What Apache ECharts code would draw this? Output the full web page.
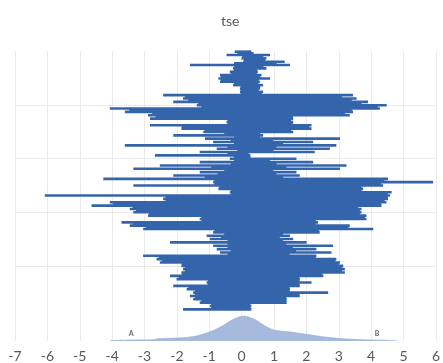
<!DOCTYPE html>
<html>
<head>
<meta charset="utf-8">
<script src="https://cdn.jsdelivr.net/npm/echarts@6/dist/echarts.min.js"></script>
<style>
  html, body { margin: 0; padding: 0; background: #fff; }
  #chart { width: 443px; height: 363px; }
</style>
</head>
<body>
<div id="chart"></div>
<script>
const X_MIN = -7;
const X_MAX = 6;

// each row is one floating bar, from rowStart to rowEnd, top to bottom
const rowStart = [
  -0.28, -0.53, -0.07, -0.02, -1.65, -0.33, -0.43, -0.73, -0.78, -0.73,
  -0.33, -0.12, -0.12, -2.47, -1.86, -2.16, -1.44, -4.10, -3.64, -2.93,
  -2.87, -0.53, -2.87, -1.91, -1.24, -2.16, -1.19, -0.94, -3.64, -0.83,
  -1.35, -2.72, -0.43, -1.35, -2.57, -3.38, -1.35, -2.16, -4.30, -0.94,
  -3.38, -0.78, -0.43, -6.09, -2.47, -4.10, -4.66, -3.49, -3.38, -2.93,
  -1.35, -3.74, -3.49, -3.08, -0.94, -1.14, -1.04, -2.26, -0.94, -0.83,
  -0.73, -3.08, -2.67, -2.57, -1.91, -1.86, -1.91, -2.26, -2.06, -1.14,
  -2.16, -1.75, -1.55, -1.65, -1.55, -1.35, -1.04, -1.86
];
const rowEnd = [
  0.23, 0.80, 0.69, 1.25, 1.41, 0.69, 0.43, 0.54, 0.80, 0.49,
  0.59, 0.49, 0.59, 3.34, 3.45, 3.80, 4.37, 4.16, 3.34, 3.24,
  1.51, 1.51, 2.07, 2.07, 1.51, 0.59, 2.94, 2.12, 2.83, 2.63,
  2.17, 0.20, 1.61, 2.12, 3.14, 2.94, 1.61, 1.71, 4.41, 5.79,
  4.26, 3.65, 4.52, 4.47, 4.41, 4.36, 4.21, 3.60, 3.60, 3.75,
  3.75, 2.27, 3.24, 3.96, 2.32, 1.41, 1.51, 1.92, 2.73, 2.22,
  2.68, 2.22, 2.83, 2.94, 3.04, 3.09, 3.09, 2.43, 1.71, 2.07,
  1.71, 1.41, 2.58, 1.71, 1.31, 1.31, 0.23, 0.23
];

// shorter bars sitting between the rows above (row i and i + 1)
const innerStart = [
  -0.20, -0.05, 0.00, -0.30, -0.30, -0.30, -0.40, -0.70, -0.70, -0.30,
  -0.10, -0.10, -0.10, -1.80, -1.70, -1.40, -1.30, -3.50, -2.80, -2.70,
  -0.50, -0.50, -1.90, -1.20, -0.60, -0.30, -0.40, -0.30, -0.50, -0.20,
  -0.50, -0.30, -0.30, -0.40, -1.00, -0.60, -0.80, -1.20, -0.90, -0.90,
  -0.75, -0.40, -0.40, -2.40, -2.40, -4.00, -3.40, -3.30, -2.90, -1.30,
  -1.30, -3.40, -3.00, -0.90, -0.60, -0.70, -0.50, -0.50, -0.50, -0.40,
  -0.50, -2.60, -2.50, -1.90, -1.80, -1.80, -1.90, -2.00, -1.10, -1.10,
  -1.70, -1.50, -1.50, -1.50, -1.30, -1.00, -1.00
];
const innerEnd = [
  0.30, 0.60, 0.65, 1.00, 0.60, 0.40, 0.40, 0.50, 0.45, 0.45,
  0.50, 0.45, 0.55, 3.00, 3.30, 3.60, 4.10, 3.30, 3.10, 1.50,
  1.45, 1.50, 2.00, 1.45, 0.50, 0.50, 0.90, 1.20, 1.00, 0.90,
  0.15, 0.20, 0.80, 1.00, 1.30, 0.90, 1.00, 1.20, 4.30, 4.20,
  3.60, 3.60, 4.40, 4.40, 4.30, 4.20, 3.50, 3.55, 3.55, 3.70,
  2.20, 2.20, 3.20, 2.30, 1.20, 1.10, 1.20, 1.30, 1.50, 1.60,
  1.40, 2.20, 2.80, 2.90, 3.00, 3.00, 2.40, 1.70, 1.70, 1.70,
  1.40, 1.40, 1.70, 1.30, 1.30, 0.20, 0.20
];

// density curve under the bars
const densityX = [-4.05, -3.4, -2.7, -2.6, -1.8, -1.4, -1.0, -0.6, -0.3, 0.05,
  0.4, 0.7, 1.0, 1.5, 2.0, 2.5, 3.1, 3.7, 4.4, 4.8];
const densityY = [0.008, 0.016, 0.021, 0.037, 0.053, 0.08, 0.144, 0.24, 0.336, 0.4,
  0.347, 0.251, 0.176, 0.144, 0.107, 0.069, 0.037, 0.021, 0.013, 0.008];

const markerNames = ['A', 'B'];
const markerX = [-3.41, 4.18];
const markerY = [0.11, 0.11];

// horizontal gridlines (in units of gridline spacing, counted from top)
const hGridLines = [1, 2, 3, 4];

const BAR_COLOR = '#3465ab';
const AREA_COLOR = '#a6badd';
const GRID_COLOR = '#eaeaea';
const TEXT_COLOR = '#595959';
const FONT = 'Lato, "Open Sans", sans-serif';

const chart = echarts.init(document.getElementById('chart'));

const renderBar = (params, api) => {
  const row = api.value(0);
  const start = api.coord([api.value(1), row]);
  const end = api.coord([api.value(2), row]);
  const h = api.size([0, 0.78])[1];
  return {
    type: 'rect',
    shape: { x: start[0], y: start[1] - h / 2, width: end[0] - start[0], height: h },
    style: { fill: BAR_COLOR }
  };
};

const barData = rowStart.map((s, i) => [i, s, rowEnd[i]])
  .concat(innerStart.map((s, i) => [i + 0.5, s, innerEnd[i]]));

chart.setOption({
  animation: false,
  title: {
    text: 'tse',
    left: 216,
    top: 9,
    textStyle: { fontSize: 14, fontWeight: 'normal', color: TEXT_COLOR, fontFamily: FONT }
  },
  grid: [
    { left: 15, right: 3, top: 51, bottom: 21 },
    { left: 15, right: 3, top: 50, bottom: 52 }
  ],
  xAxis: [
    {
      gridIndex: 0,
      type: 'value',
      min: X_MIN,
      max: X_MAX,
      interval: 1,
      axisLine: { show: false },
      axisTick: { show: false },
      axisLabel: { color: TEXT_COLOR, fontSize: 14, fontFamily: FONT, margin: 8 },
      splitLine: { lineStyle: { color: GRID_COLOR, width: 1 } }
    },
    { gridIndex: 1, type: 'value', min: X_MIN, max: X_MAX, show: false }
  ],
  yAxis: [
    { gridIndex: 0, type: 'value', min: 0, max: 4.66, show: false },
    { gridIndex: 0, type: 'value', inverse: true, min: 0, max: 5.39, show: false },
    {
      gridIndex: 1,
      type: 'value',
      inverse: true,
      min: -0.5,
      max: rowStart.length - 0.5,
      show: false
    }
  ],
  series: [
    {
      type: 'line',
      xAxisIndex: 0,
      yAxisIndex: 1,
      data: [],
      z: 1,
      silent: true,
      markLine: {
        symbol: 'none',
        silent: true,
        label: { show: false },
        lineStyle: { color: GRID_COLOR, width: 1, type: 'solid' },
        data: hGridLines.map(v => ({ yAxis: v }))
      }
    },
    {
      type: 'line',
      xAxisIndex: 0,
      yAxisIndex: 0,
      smooth: 0.3,
      showSymbol: false,
      lineStyle: { width: 0.6, color: '#95abd3' },
      areaStyle: { color: AREA_COLOR, opacity: 1 },
      data: densityX.map((x, i) => [x, densityY[i]])
    },
    {
      type: 'scatter',
      xAxisIndex: 0,
      yAxisIndex: 0,
      symbolSize: 0,
      label: {
        show: true,
        position: 'inside',
        formatter: p => p.name,
        fontSize: 7,
        fontWeight: 'bold',
        color: '#404040',
        fontFamily: FONT
      },
      data: markerNames.map((n, i) => ({ name: n, value: [markerX[i], markerY[i]] }))
    },
    {
      type: 'custom',
      xAxisIndex: 1,
      yAxisIndex: 2,
      z: 10,
      renderItem: renderBar,
      encode: { x: [1, 2], y: 0 },
      data: barData
    }
  ]
});
</script>
</body>
</html>
